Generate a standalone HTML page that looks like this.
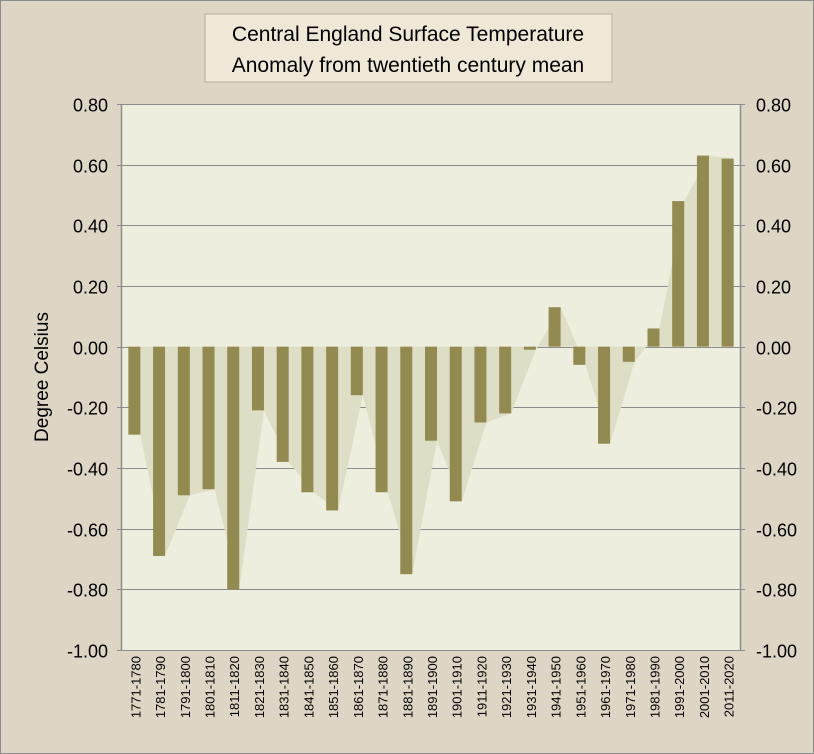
<!DOCTYPE html>
<html><head><meta charset="utf-8">
<style>
html,body{margin:0;padding:0;background:#ddd6c4;}
svg{display:block;font-family:"Liberation Sans",sans-serif;}
</style></head><body>
<svg id="c" width="814" height="754">
<rect x="0.5" y="0.5" width="813" height="753" fill="#ddd6c4" stroke="#8c8c8c"/>
<rect x="122" y="104" width="618" height="546" fill="#eeeedf"/>
<g id="grid"></g>
<g id="area"></g>
<g id="bars"></g>
<g id="axes"></g>
<g>
<rect x="205" y="14" width="407" height="68" fill="#efe8d6" stroke="#b5b0a0"/>
<text x="408" y="41" text-anchor="middle" font-size="21" fill="#000">Central England Surface Temperature</text>
<text x="408" y="72" text-anchor="middle" font-size="21" fill="#000">Anomaly from twentieth century mean</text>
</g>
<text transform="translate(48,377) rotate(-90)" text-anchor="middle" font-size="19">Degree Celsius</text>
</svg>
<script>
const categories=["1771-1780","1781-1790","1791-1800","1801-1810","1811-1820","1821-1830","1831-1840","1841-1850","1851-1860","1861-1870","1871-1880","1881-1890","1891-1900","1901-1910","1911-1920","1921-1930","1931-1940","1941-1950","1951-1960","1961-1970","1971-1980","1981-1990","1991-2000","2001-2010","2011-2020"];
const values=[-0.29,-0.69,-0.49,-0.47,-0.80,-0.21,-0.38,-0.48,-0.54,-0.16,-0.48,-0.75,-0.31,-0.51,-0.25,-0.22,-0.01,0.13,-0.06,-0.32,-0.05,0.06,0.48,0.63,0.62];
const ticks=[0.8,0.6,0.4,0.2,0,-0.2,-0.4,-0.6,-0.8,-1.0];
const X0=122,X1=740,Y0=104,Y1=650,vmax=0.8,vmin=-1.0;
const NS="http://www.w3.org/2000/svg";
const y=v=>Y0+(vmax-v)/(vmax-vmin)*(Y1-Y0);
const bw=(X1-X0)/categories.length;
const xc=i=>X0+bw*(i+0.5);
function mk(t,a,p){const e=document.createElementNS(NS,t);for(const k in a)e.setAttribute(k,a[k]);p.appendChild(e);return e;}
const grid=document.getElementById('grid'),axes=document.getElementById('axes'),bars=document.getElementById('bars'),area=document.getElementById('area');
ticks.forEach(t=>{
 const gy=Math.round(y(t))+0.5;
 const l=mk('line',{x1:X0,x2:X1,y1:gy,y2:gy,stroke:'#8c8c8c','stroke-width':1},grid);
 
 
 const s=t.toFixed(2);
 const a=mk('text',{x:108,y:gy+7,'text-anchor':'end','font-size':18},axes);a.textContent=s;
 
 
 const b=mk('text',{x:756,y:gy+7,'text-anchor':'start','font-size':18},axes);b.textContent=s;
 
 
 mk('line',{x1:X0-5,x2:X0,y1:gy,y2:gy,stroke:'#8c8c8c'},axes);
 mk('line',{x1:X1,x2:X1+5,y1:gy,y2:gy,stroke:'#8c8c8c'},axes);
});
let pts=[];const y0=y(0);
values.forEach((v,i)=>pts.push([xc(i)+6,y(v)]));
let d=`M${pts[0][0]},${y0} `+pts.map(p=>`L${p[0]},${p[1]}`).join(' ')+` L${pts[pts.length-1][0]},${y0} Z`;
const ap=mk('path',{d:d,fill:'#dedec6'},area);


values.forEach((v,i)=>{
 const top=Math.min(y(v),y0),h=Math.abs(y(v)-y0);
 const r=mk('rect',{x:xc(i)-6,y:top,width:12,height:h,fill:'#928a50'},bars);
 
 
 const tx=xc(i)+6;
 const t=mk('text',{transform:`translate(${tx},${Y1+6}) rotate(-90)`,'text-anchor':'end','font-size':13},axes);
 t.textContent=categories[i];
 
 
});
mk('line',{x1:X0-0.5,x2:X0-0.5,y1:Y0,y2:Y1,stroke:'#8c8c8c','stroke-width':1.5},axes);
mk('line',{x1:X1+0.5,x2:X1+0.5,y1:Y0,y2:Y1,stroke:'#8c8c8c','stroke-width':1.5},axes);
</script>
</body></html>
